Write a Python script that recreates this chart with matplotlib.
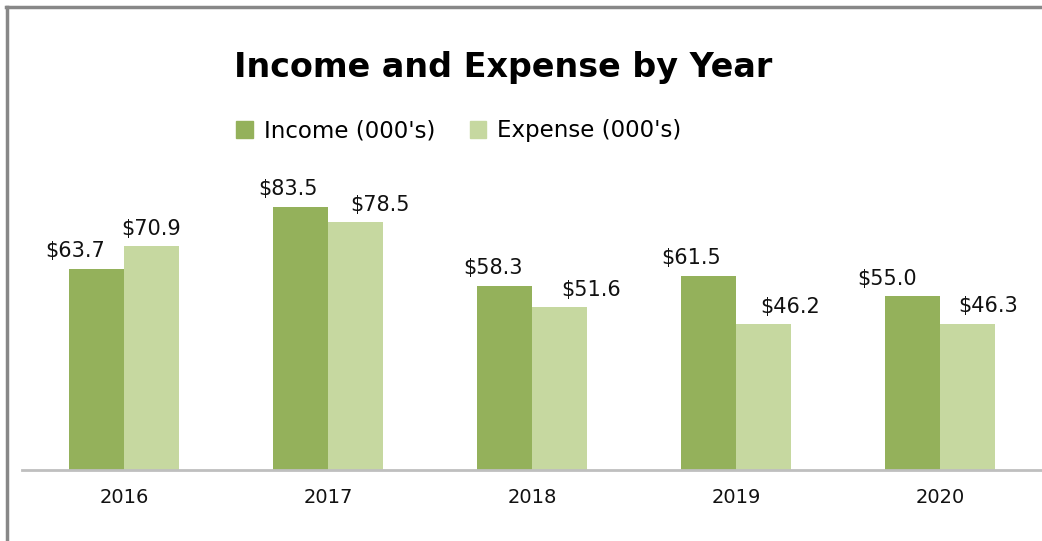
import numpy as np
import matplotlib
matplotlib.use("Agg")
import matplotlib.pyplot as plt
from matplotlib.lines import Line2D
from matplotlib.patches import Patch

# data
years = ["2016", "2017", "2018", "2019", "2020"]
income = [63.7, 83.5, 58.3, 61.5, 55.0]
expense = [70.9, 78.5, 51.6, 46.2, 46.3]
series_names = ["Income (000's)", "Expense (000's)"]

# style
c_income = "#94B15B"
c_expense = "#C6D8A0"
# label nudges (px) so they sit like the original
dx_income = [-21, -12, -11, -17, -25]
dx_expense = [0, 24, 32, 27, 21]

fig = plt.figure(figsize=(10.42, 5.41), dpi=100)
W, H = 1042, 541
ax = fig.add_axes([22 / W, 1 - 470 / H, 1020 / W, 315.5 / H])

x = np.arange(len(years))
bw = 0.27
b1 = ax.bar(x - bw / 2, income, bw, color=c_income, zorder=2)
b2 = ax.bar(x + bw / 2, expense, bw, color=c_expense, zorder=2)

lab_font = dict(family="DejaVu Sans", fontsize=15, color="#111111")
for bars, dxs in ((b1, dx_income), (b2, dx_expense)):
    for b, dx in zip(bars, dxs):
        h = b.get_height()
        ax.annotate(f"${h:.1f}", (b.get_x() + b.get_width() / 2, h),
                    xytext=(dx * 0.72, 5.5), textcoords="offset points",
                    ha="center", va="bottom", **lab_font)

ax.set_xlim(-0.5, len(years) - 0.5)
ax.set_ylim(0, 100)
ax.set_xticks(x)
ax.set_xticklabels(years, family="DejaVu Sans", fontsize=14, color="#111111")
ax.tick_params(axis="x", length=0, pad=13)
ax.set_yticks([])
for s in ["top", "right", "left"]:
    ax.spines[s].set_visible(False)
ax.spines["bottom"].set_color("#BFBFBF")
ax.spines["bottom"].set_linewidth(2)

# title + legend
fig.text(503 / W, 1 - 68 / H, "Income and Expense by Year", ha="center", va="center",
         family="DejaVu Sans", fontweight="bold", fontsize=24, color="black")
handles = [Patch(color=c_income), Patch(color=c_expense)]
fig.legend(handles, series_names, loc="center", bbox_to_anchor=(459 / W, 1 - 131 / H),
           ncol=2, frameon=False, prop=dict(family="DejaVu Sans", size=16.5),
           handlelength=0.7, handleheight=0.7, handletextpad=0.5, columnspacing=1.5)

# outer chart frame (only top and left edges show in the crop)
fig.add_artist(Line2D([6 / W, 1], [1 - 7 / H, 1 - 7 / H], color="#888888", lw=2.5,
                      transform=fig.transFigure))
fig.add_artist(Line2D([7 / W, 7 / W], [0, 1 - 7 / H], color="#888888", lw=2.5,
                      transform=fig.transFigure))

fig.savefig("out.png", dpi=100)
